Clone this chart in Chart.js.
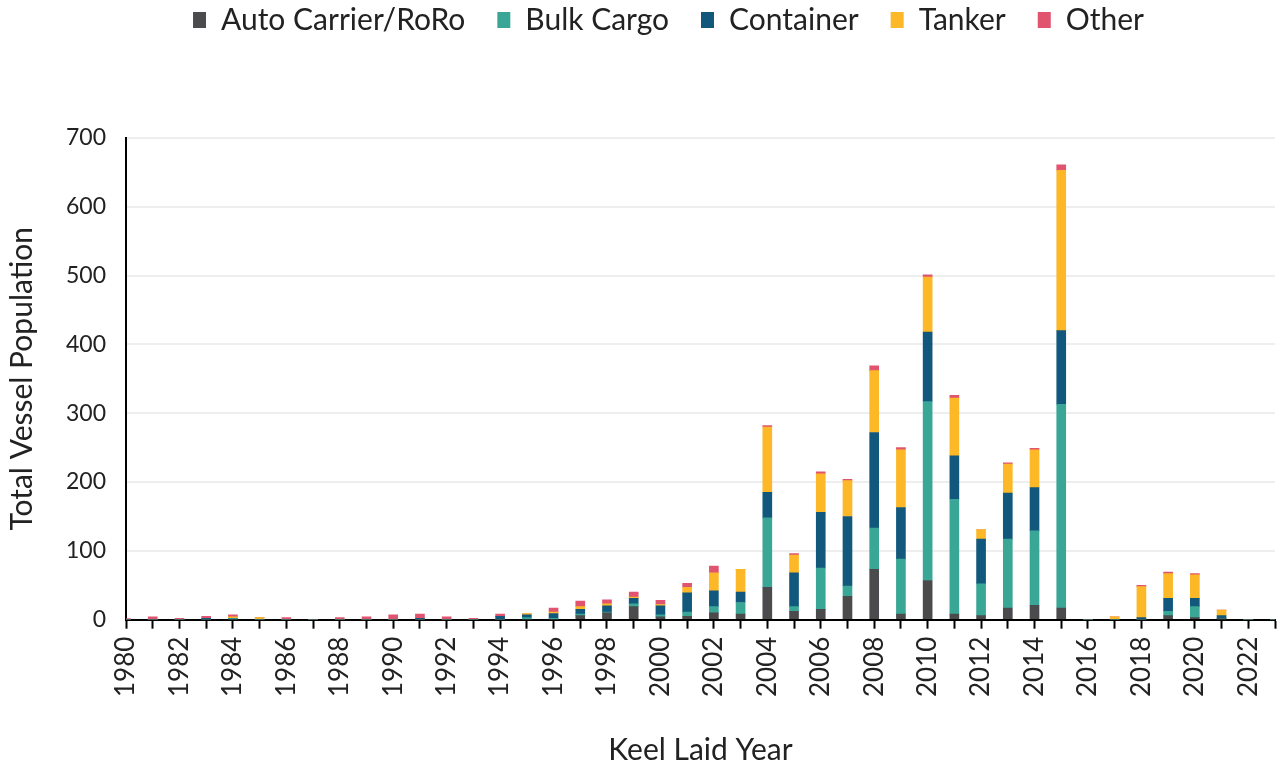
<!DOCTYPE html>
<html>
<head>
<meta charset="utf-8">
<script src="https://cdn.jsdelivr.net/npm/chart.js@4.4.1/dist/chart.umd.min.js"></script>
<style>
    body { margin: 0; background: #fff; }
    #wrap { width: 1280px; height: 768px; }
</style>
</head>
<body>
<div id="wrap"><canvas id="chart" width="1280" height="768"></canvas></div>
<script>
const years = [];
for (let y = 1980; y <= 2023; y++) years.push(String(y));

// values per keel laid year, 1980 .. 2023
const autoCarrier = [0,0,0,0,0,0,0,0,0,0, 0,0,0,0,0,0,0,6,10,19, 4,5,10,8,47,12,15,34,73,8, 57,8,6,17,21,17,0,0,0,6, 3,1,0,0];
const bulkCargo   = [0,0,0,0,1,0,0,0,0,0, 0,0,0,0,0,3,2,2,1,4, 3,6,9,17,101,7,60,15,60,80, 260,167,46,100,108,296,0,0,0,6, 16,1,0,0];
const container   = [0,0,0,2,1,0,0,0,0,0, 0,2,0,0,5,4,7,7,9,8, 13,28,23,15,37,49,81,101,139,75, 101,63,65,67,63,107,0,0,3,19, 12,4,0,0];
const tanker      = [0,0,0,0,2,3,0,0,0,0, 0,0,0,0,0,2,2,4,3,2, 2,8,26,33,95,26,56,52,90,84, 80,84,14,42,55,233,0,4,45,36, 34,8,0,0];
const other       = [1,4,2,3,3,0,3,0,3,4, 7,6,4,2,3,0,6,8,6,7, 6,6,10,0,2,2,3,2,7,3, 3,4,0,2,2,8,0,0,2,2, 2,0,0,0];

const seriesNames = ["Auto Carrier/RoRo", "Bulk Cargo", "Container", "Tanker", "Other"];
const seriesColors = ["#4b4b4d", "#3aa796", "#12587c", "#fdb827", "#e0546f"];
const yTicks = [0, 100, 200, 300, 400, 500, 600, 700];

const font = "Lato, 'Noto Sans', sans-serif";

// fixed legend height so the plot starts well below it,
// and the legend row sits a bit right of centre like the original
const legendGap = {
    id: "legendGap",
    beforeInit(chart) {
        const fit = chart.legend.fit;
        chart.legend.fit = function () {
            fit.bind(chart.legend)();
            this.height = 165;
        };
    },
    afterLayout(chart) {
        chart.legend.left += 29;
        chart.legend.right += 29;
    }
};

const data = [autoCarrier, bulkCargo, container, tanker, other];

new Chart(document.getElementById("chart"), {
    type: "bar",
    data: {
        labels: years,
        datasets: data.map((values, i) => ({
            label: seriesNames[i],
            data: values,
            backgroundColor: seriesColors[i],
            barThickness: 9,
            borderWidth: 0
        }))
    },
    options: {
        responsive: false,
        animation: false,
        layout: { padding: { left: 4, right: 5, top: -27, bottom: 0 } },
        plugins: {
            legend: {
                position: "top",
                labels: {
                    font: { family: font, size: 30 },
                    color: "#222",
                    boxWidth: 13,
                    boxHeight: 16,
                    padding: 32
                }
            },
            tooltip: { enabled: false }
        },
        scales: {
            x: {
                stacked: true,
                offset: false,
                afterFit: (scale) => { scale.paddingRight = 0; },
                grid: {
                    offset: false,
                    drawOnChartArea: false,
                    drawTicks: true,
                    tickLength: 9,
                    tickWidth: 2,
                    tickColor: "#000"
                },
                border: { color: "#000", width: 2 },
                ticks: {
                    autoSkip: false,
                    minRotation: 90,
                    maxRotation: 90,
                    padding: 8,
                    color: "#222",
                    font: { family: font, size: 26 },
                    callback: function (val, idx) {
                        const y = Number(years[idx]);
                        return (y % 2 === 0 && y < 2023) ? years[idx] : "";
                    }
                },
                title: {
                    display: true,
                    text: "Keel Laid Year",
                    color: "#222",
                    font: { family: font, size: 30 },
                    padding: { top: 27, bottom: 0 }
                }
            },
            y: {
                stacked: true,
                min: 0,
                max: 700,
                afterBuildTicks: (axis) => { axis.ticks = yTicks.map(v => ({ value: v })); },
                grid: {
                    color: "#eeeeee",
                    lineWidth: 2,
                    tickLength: 6,
                    tickColor: "rgba(0,0,0,0)"
                },
                border: { color: "#000", width: 2 },
                ticks: {
                    padding: 14,
                    color: "#222",
                    font: { family: font, size: 23 }
                },
                title: {
                    display: true,
                    text: "Total Vessel Population",
                    color: "#222",
                    font: { family: font, size: 30 },
                    padding: { top: 0, bottom: 12 }
                }
            }
        }
    },
    plugins: [legendGap]
});
</script>
</body>
</html>
